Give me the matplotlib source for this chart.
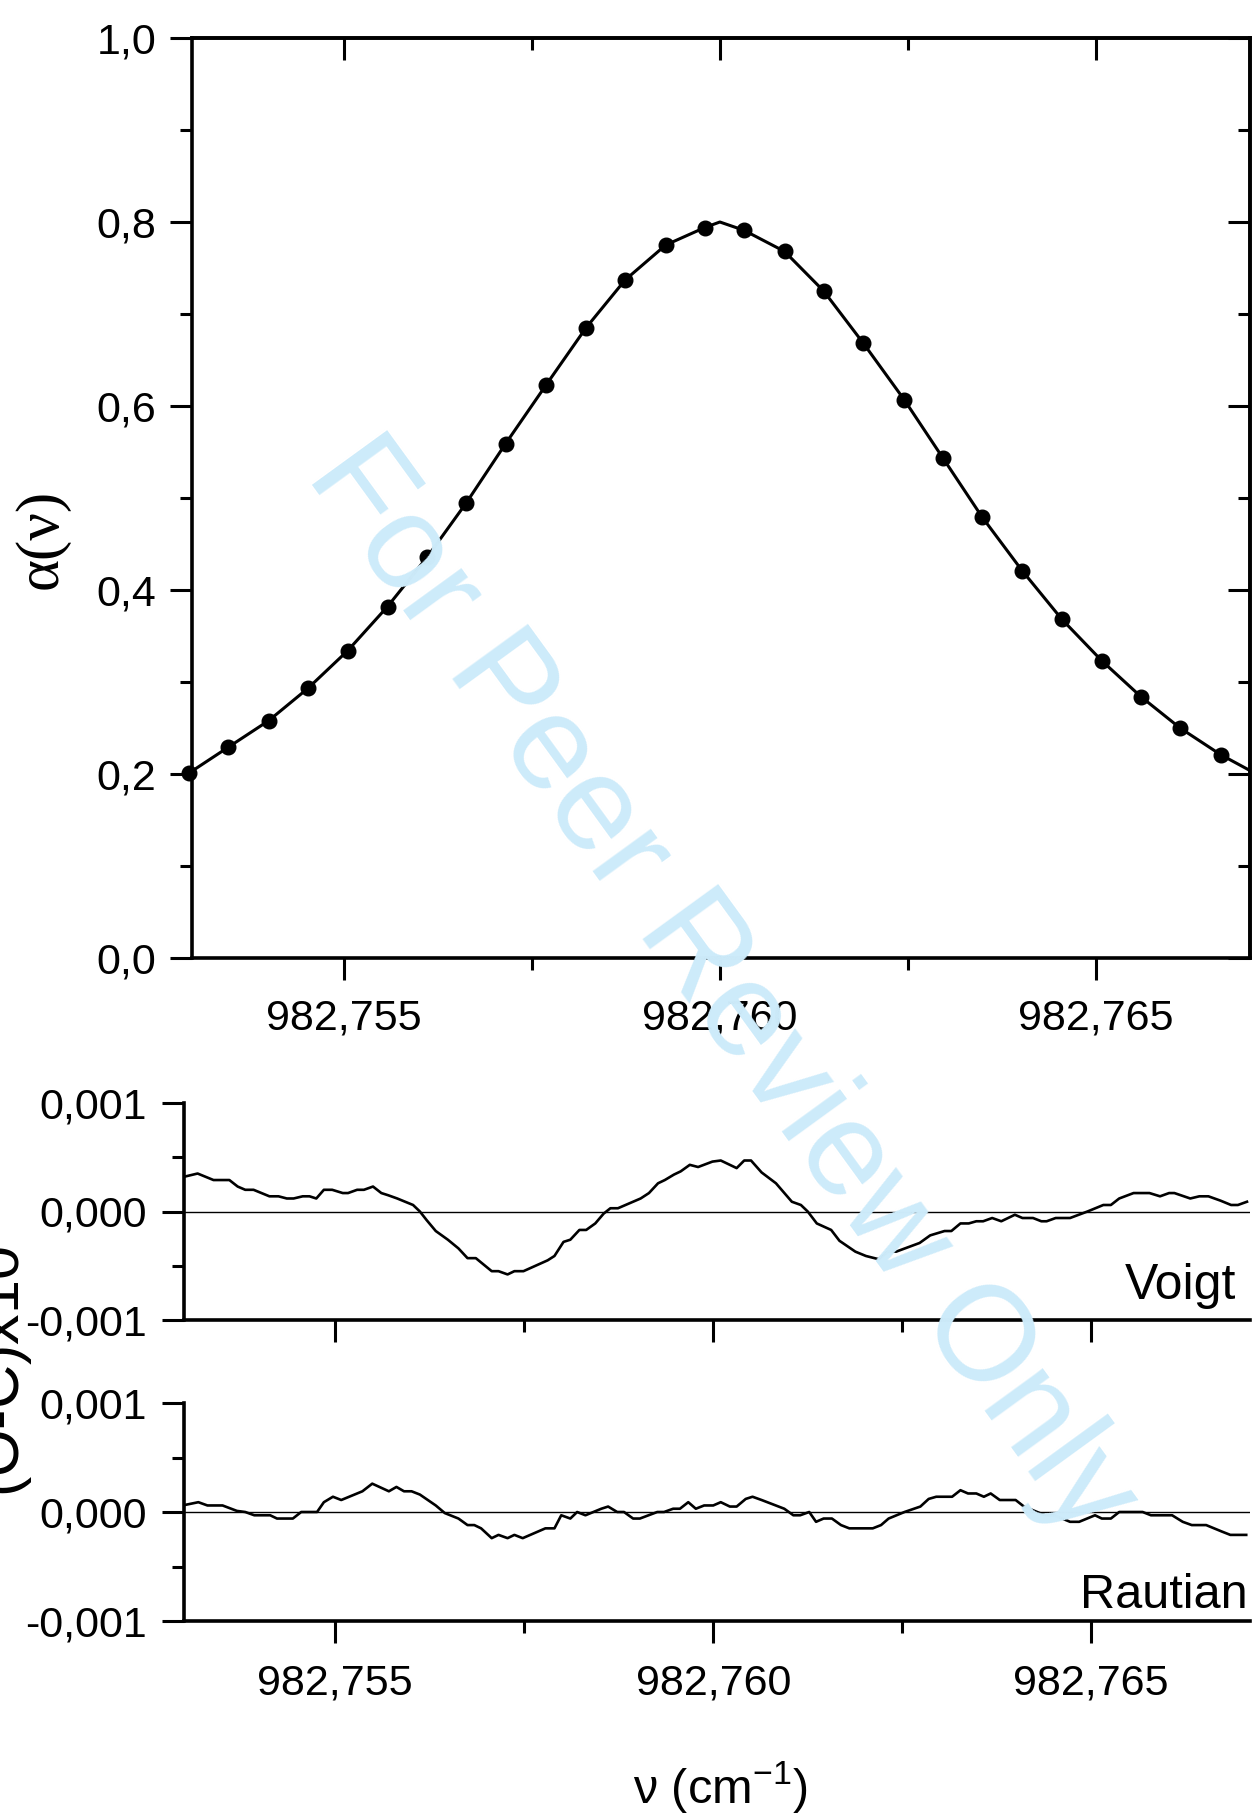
import numpy as np
import matplotlib
matplotlib.use('Agg')
import matplotlib.pyplot as plt
from matplotlib.ticker import MultipleLocator

plt.rcParams['font.family'] = ['Liberation Sans', 'DejaVu Sans']

# ================= DATA =================
# measured absorption (dots)
obs_nu = [982.75294, 982.75346, 982.75400, 982.75452, 982.75505, 982.75558,
          982.75611, 982.75663, 982.75715, 982.75769, 982.75822, 982.75874,
          982.75928, 982.75980, 982.76032, 982.76086, 982.76138, 982.76191,
          982.76245, 982.76297, 982.76349, 982.76402, 982.76455, 982.76508,
          982.76560, 982.76612, 982.76666]
obs_alpha = [0.201, 0.229, 0.258, 0.293, 0.334, 0.382, 0.436, 0.495, 0.559,
             0.623, 0.685, 0.737, 0.775, 0.794, 0.791, 0.768, 0.725, 0.668,
             0.607, 0.543, 0.479, 0.421, 0.368, 0.323, 0.284, 0.250, 0.221]

# fitted profile (line)
fit_nu = [982.75294, 982.75346, 982.75400, 982.75452, 982.75505, 982.75558,
          982.75611, 982.75663, 982.75715, 982.75769, 982.75822, 982.75874,
          982.75928, 982.75980, 982.76000, 982.76032, 982.76086, 982.76138,
          982.76191, 982.76245, 982.76297, 982.76349, 982.76402, 982.76455,
          982.76508, 982.76560, 982.76612, 982.76666, 982.76709]
fit_alpha = [0.201, 0.229, 0.258, 0.293, 0.334, 0.382, 0.436, 0.495, 0.559,
             0.623, 0.685, 0.737, 0.775, 0.794, 0.800, 0.791, 0.768, 0.725,
             0.668, 0.607, 0.543, 0.479, 0.421, 0.368, 0.323, 0.284, 0.250,
             0.221, 0.202]

# residuals, Voigt fit
voigt_nu = [982.75300, 982.75318, 982.75339, 982.75360, 982.75371, 982.75381,
            982.75392, 982.75413, 982.75425, 982.75436, 982.75445, 982.75457,
            982.75466, 982.75475, 982.75485, 982.75496, 982.75510, 982.75517,
            982.75529, 982.75538, 982.75550, 982.75561, 982.75570, 982.75582,
            982.75603, 982.75612, 982.75621, 982.75633, 982.75649, 982.75663,
            982.75675, 982.75686, 982.75707, 982.75716, 982.75728, 982.75737,
            982.75749, 982.75765, 982.75781, 982.75790, 982.75802, 982.75811,
            982.75823, 982.75832, 982.75844, 982.75855, 982.75864, 982.75874,
            982.75904, 982.75915, 982.75927, 982.75936, 982.75948, 982.75957,
            982.75969, 982.75980, 982.75999, 982.76010, 982.76031, 982.76041,
            982.76050, 982.76064, 982.76083, 982.76104, 982.76116, 982.76125,
            982.76137, 982.76156, 982.76167, 982.76188, 982.76202, 982.76219,
            982.76231, 982.76242, 982.76273, 982.76287, 982.76306, 982.76315,
            982.76327, 982.76338, 982.76348, 982.76357, 982.76369, 982.76381,
            982.76399, 982.76409, 982.76423, 982.76434, 982.76441, 982.76453,
            982.76472, 982.76495, 982.76516, 982.76526, 982.76537, 982.76556,
            982.76577, 982.76591, 982.76603, 982.76610, 982.76631, 982.76643,
            982.76655, 982.76671, 982.76685, 982.76694, 982.76706]
voigt_res = [0.00032, 0.00035, 0.00029, 0.00029, 0.00023, 0.00020,
             0.00020, 0.00014, 0.00014, 0.00012, 0.00012, 0.00014,
             0.00014, 0.00012, 0.00020, 0.00020, 0.00017, 0.00017,
             0.00020, 0.00020, 0.00023, 0.00017, 0.00015, 0.00012,
             0.00006, 0.00000, -0.00008, -0.00018, -0.00026, -0.00034,
             -0.00043, -0.00043, -0.00055, -0.00055, -0.00058, -0.00055,
             -0.00055, -0.00050, -0.00045, -0.00041, -0.00028, -0.00026,
             -0.00017, -0.00017, -0.00011, -0.00002, 0.00003, 0.00003,
             0.00012, 0.00017, 0.00026, 0.00029, 0.00034, 0.00037,
             0.00043, 0.00041, 0.00046, 0.00047, 0.00040, 0.00047,
             0.00047, 0.00036, 0.00026, 0.00009, 0.00006, 0.00000,
             -0.00011, -0.00017, -0.00027, -0.00037, -0.00041, -0.00044,
             -0.00037, -0.00037, -0.00029, -0.00022, -0.00018, -0.00018,
             -0.00011, -0.00011, -0.00009, -0.00009, -0.00006, -0.00009,
             -0.00003, -0.00006, -0.00006, -0.00009, -0.00009, -0.00006,
             -0.00006, 0.00000, 0.00006, 0.00006, 0.00012, 0.00017,
             0.00017, 0.00014, 0.00017, 0.00017, 0.00012, 0.00014,
             0.00014, 0.00010, 0.00006, 0.00006, 0.00009]

# residuals, Rautian fit
rautian_nu = [982.75298, 982.75319, 982.75331, 982.75351, 982.75370, 982.75381,
              982.75393, 982.75414, 982.75423, 982.75444, 982.75455, 982.75476,
              982.75485, 982.75497, 982.75508, 982.75536, 982.75549, 982.75571,
              982.75581, 982.75591, 982.75601, 982.75612, 982.75633, 982.75645,
              982.75663, 982.75675, 982.75684, 982.75693, 982.75707, 982.75716,
              982.75728, 982.75737, 982.75748, 982.75778, 982.75790, 982.75799,
              982.75811, 982.75820, 982.75831, 982.75852, 982.75861, 982.75873,
              982.75882, 982.75894, 982.75903, 982.75926, 982.75935, 982.75947,
              982.75956, 982.75967, 982.75977, 982.75988, 982.76000, 982.76010,
              982.76022, 982.76031, 982.76043, 982.76052, 982.76064, 982.76094,
              982.76106, 982.76115, 982.76127, 982.76136, 982.76146, 982.76157,
              982.76169, 982.76180, 982.76211, 982.76222, 982.76232, 982.76253,
              982.76274, 982.76285, 982.76295, 982.76316, 982.76327, 982.76337,
              982.76348, 982.76358, 982.76367, 982.76379, 982.76400, 982.76411,
              982.76439, 982.76451, 982.76472, 982.76484, 982.76505, 982.76514,
              982.76526, 982.76537, 982.76568, 982.76579, 982.76607, 982.76621,
              982.76633, 982.76652, 982.76673, 982.76684, 982.76705]
rautian_res = [0.00006, 0.00009, 0.00006, 0.00006, 0.00001, 0.00000,
               -0.00003, -0.00003, -0.00006, -0.00006, 0.00000, 0.00000,
               0.00009, 0.00014, 0.00011, 0.00019, 0.00026, 0.00019,
               0.00023, 0.00019, 0.00019, 0.00016, 0.00006, -0.00001,
               -0.00006, -0.00012, -0.00012, -0.00015, -0.00024, -0.00021,
               -0.00024, -0.00021, -0.00024, -0.00015, -0.00015, -0.00003,
               -0.00006, 0.00000, -0.00003, 0.00003, 0.00005, 0.00000,
               0.00000, -0.00006, -0.00006, 0.00000, 0.00000, 0.00003,
               0.00003, 0.00009, 0.00003, 0.00006, 0.00006, 0.00009,
               0.00005, 0.00005, 0.00012, 0.00014, 0.00011, 0.00003,
               -0.00003, -0.00003, 0.00000, -0.00009, -0.00006, -0.00006,
               -0.00012, -0.00015, -0.00015, -0.00012, -0.00006, 0.00000,
               0.00005, 0.00012, 0.00014, 0.00014, 0.00020, 0.00017,
               0.00017, 0.00014, 0.00017, 0.00011, 0.00011, 0.00005,
               -0.00003, -0.00003, -0.00009, -0.00009, -0.00003, -0.00006,
               -0.00006, 0.00000, 0.00000, -0.00003, -0.00003, -0.00009,
               -0.00012, -0.00012, -0.00018, -0.00021, -0.00021]

xtick_vals = [982.755, 982.760, 982.765]
xtick_labels = ['982,755', '982,760', '982,765']
top_ytick_vals = [0.0, 0.2, 0.4, 0.6, 0.8, 1.0]
top_ytick_labels = ['0,0', '0,2', '0,4', '0,6', '0,8', '1,0']
res_ytick_vals = [-0.001, 0.0, 0.001]
res_ytick_labels = ['-0,001', '0,000', '0,001']

# ================= LAYOUT =================
W, H = 1253, 1814
fig = plt.figure(figsize=(W / 100, H / 100), dpi=100)


def box(left, top, right, bottom):
    return [left / W, 1 - bottom / H, (right - left) / W, (bottom - top) / H]


SPINE_LW = 2.6
TICK_FS = 31
MAJ_LEN, MIN_LEN, TICK_W = 15.5, 8.5, 2.2

# watermark behind everything
fig.text(0.575, 0.455, 'For Peer Review Only', fontsize=97, color='#cdebfa',
         rotation=-54, ha='center', va='center', zorder=0)

# ---- top panel ----
ax = fig.add_axes(box(192, 38, 1250, 958))
ax.set_facecolor('none')
ax.plot(fit_nu, fit_alpha, color='black', lw=2.2, zorder=3)
ax.plot(obs_nu, obs_alpha, 'o', color='black', ms=10.5, zorder=4, clip_on=False)
ax.set_xlim(982.75298, 982.76705)
ax.set_ylim(0, 1)
ax.set_xticks(xtick_vals)
ax.set_xticklabels(xtick_labels)
ax.set_yticks(top_ytick_vals)
ax.set_yticklabels(top_ytick_labels)
ax.xaxis.set_minor_locator(MultipleLocator(0.0025))
ax.yaxis.set_minor_locator(MultipleLocator(0.1))
ax.tick_params(which='both', direction='out', width=TICK_W, labelsize=TICK_FS,
               top=False, right=False)
ax.tick_params(which='major', length=MAJ_LEN)
ax.tick_params(which='minor', length=MIN_LEN)
ax.tick_params(axis='y', pad=10)
ax.tick_params(axis='x', pad=14)
for s in ax.spines.values():
    s.set_linewidth(SPINE_LW)

# inward mirror ticks on top and right
sec_x = ax.secondary_xaxis('top')
sec_x.set_xticks(xtick_vals)
sec_x.xaxis.set_minor_locator(MultipleLocator(0.0025))
sec_x.tick_params(which='both', direction='in', width=TICK_W, labeltop=False)
sec_x.tick_params(which='major', length=MAJ_LEN)
sec_x.tick_params(which='minor', length=MIN_LEN)
sec_x.spines['top'].set_linewidth(SPINE_LW)
sec_y = ax.secondary_yaxis('right')
sec_y.set_yticks(top_ytick_vals)
sec_y.yaxis.set_minor_locator(MultipleLocator(0.1))
sec_y.tick_params(which='both', direction='in', width=TICK_W, labelright=False)
sec_y.tick_params(which='major', length=MAJ_LEN)
sec_y.tick_params(which='minor', length=MIN_LEN)
sec_y.spines['right'].set_linewidth(SPINE_LW)

fig.text(42 / W, 1 - 539 / H, 'α(ν)', fontsize=44, rotation=90,
         ha='center', va='center', family=['Liberation Serif', 'DejaVu Serif'])

# ---- residual panels ----
res_boxes = [box(184, 1103, 1250, 1320), box(184, 1403, 1250, 1621)]
res_data = [(voigt_nu, voigt_res, 'Voigt', 0.987, 0.097, 36),
            (rautian_nu, rautian_res, 'Rautian', 0.998, 0.060, 35)]

for rect, (nu, res, name, tx, ty, fs) in zip(res_boxes, res_data):
    a = fig.add_axes(rect)
    a.set_facecolor('none')
    a.axhline(0, color='black', lw=1.0, zorder=2)
    a.plot(nu, res, color='black', lw=1.9, zorder=3)
    a.set_xlim(982.7530, 982.7671)
    a.set_ylim(-0.001, 0.001)
    a.set_xticks(xtick_vals)
    a.set_yticks(res_ytick_vals)
    a.set_yticklabels(res_ytick_labels)
    a.xaxis.set_minor_locator(MultipleLocator(0.0025))
    a.yaxis.set_minor_locator(MultipleLocator(0.0005))
    a.spines['top'].set_visible(False)
    a.spines['right'].set_visible(False)
    a.spines['left'].set_linewidth(SPINE_LW)
    a.spines['bottom'].set_linewidth(SPINE_LW)
    a.tick_params(which='both', direction='out', width=TICK_W, labelsize=TICK_FS)
    a.tick_params(which='major', length=MAJ_LEN)
    a.tick_params(which='minor', length=MIN_LEN)
    a.tick_params(axis='y', pad=11)
    a.tick_params(axis='x', pad=15)
    if name == 'Voigt':
        a.set_xticklabels([])
    else:
        a.set_xticklabels(xtick_labels)
    a.text(tx, ty, name, transform=a.transAxes, fontsize=fs,
           ha='right', va='baseline')

# shared residual label (partly outside the canvas, as in the original)
fig.text(20 / W, 1 - 1497 / H, '(O-C)x10$^{3}$', fontsize=44, rotation=90,
         rotation_mode='anchor', ha='left', va='baseline')

fig.text(720 / W, 11 / H, 'ν (cm$^{\\mathregular{-1}}$)', fontsize=35,
         ha='center', va='baseline')

fig.savefig('out.png', dpi=100)
